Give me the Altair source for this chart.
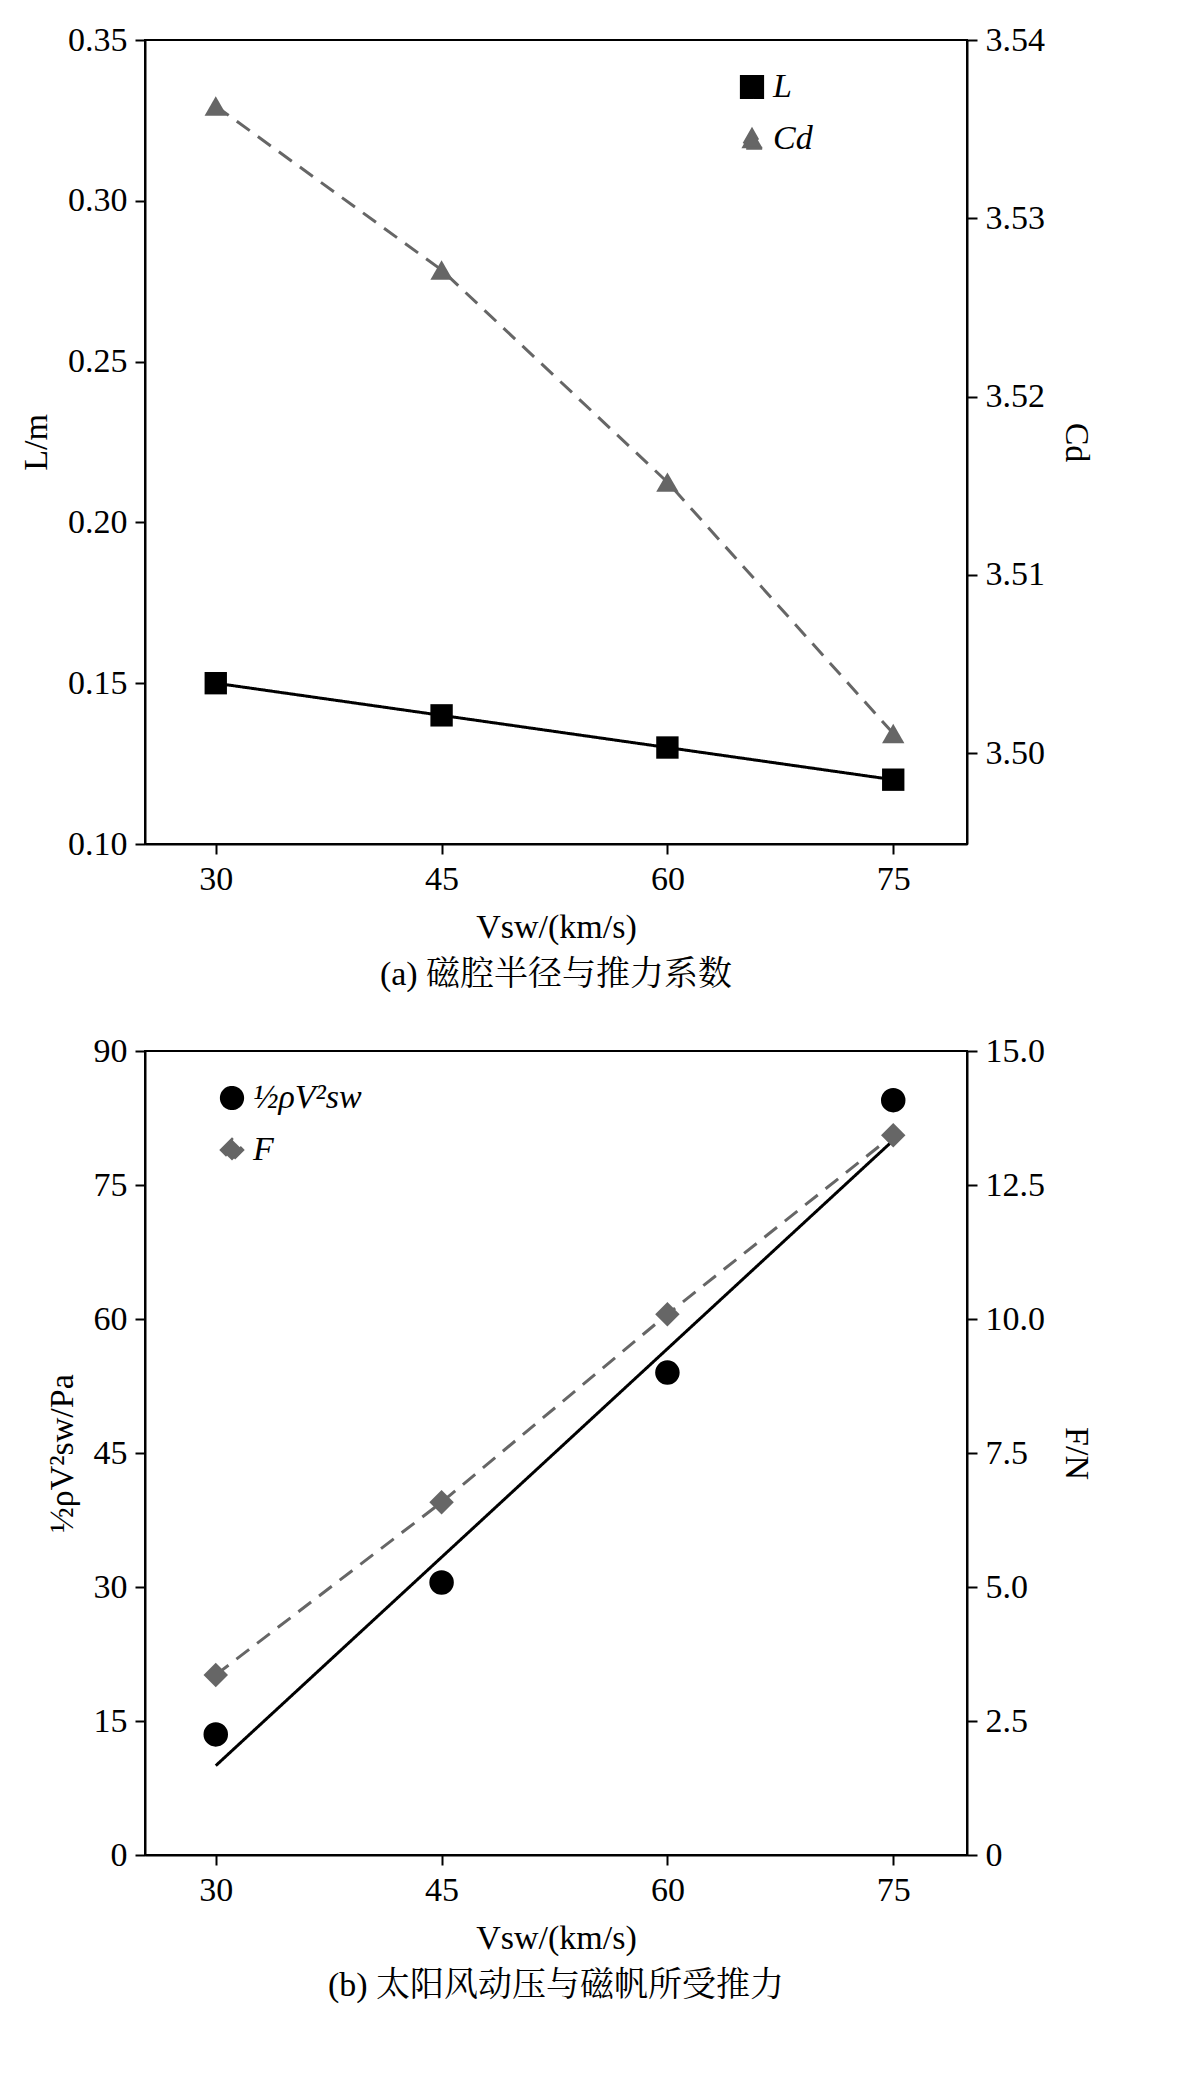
import altair as alt
import pandas as pd

speed = [30, 45, 60, 75]
radius_l = [0.15, 0.14, 0.13, 0.12]
coef_cd = [3.5363, 3.5271, 3.5152, 3.5011]
pressure = [13.5, 30.5, 54.0, 84.5]
pressure_fit_x = [30, 75]
pressure_fit_y = [10.0, 80.0]
thrust_f = [3.36, 6.58, 10.09, 13.43]

SERIF = "Liberation Serif"
CJK = "Liberation Serif, Noto Serif CJK SC, Noto Sans CJK SC"
FS = 34
W, H = 822, 804

xscale = alt.Scale(domain=[25.3, 79.9], nice=False)
xaxis = alt.Axis(values=[30, 45, 60, 75], title="Vsw/(km/s)")


def axis_y(values, title, orient="left", fmt=None, expr=None):
    kw = dict(values=values, title=title, orient=orient)
    if fmt:
        kw["format"] = fmt
    if expr:
        kw["labelExpr"] = expr
    return alt.Axis(**kw)


def series(field, names, colors, dashes, shapes, lx):
    col = alt.Color(field + ":N", scale=alt.Scale(domain=names, range=colors),
                    legend=alt.Legend(title=None, orient="none", legendX=lx, legendY=30,
                                      symbolSize=450, symbolStrokeWidth=3,
                                      labelFontSize=FS, labelFont=SERIF, labelFontStyle="italic",
                                      rowPadding=18))
    dash = alt.StrokeDash(field + ":N", scale=alt.Scale(domain=names, range=dashes))
    shp = alt.Shape(field + ":N", scale=alt.Scale(domain=names, range=shapes))
    return col, dash, shp


x = alt.X("v:Q", scale=xscale, axis=xaxis)

# ---------- panel (a)
da = pd.DataFrame({"v": speed, "L": radius_l, "s": "L"})
dc = pd.DataFrame({"v": speed, "Cd": coef_cd, "s": "Cd"})
col, dash, shp = series("s", ["L", "Cd"], ["black", "#666666"], [[1, 0], [16, 10]],
                        ["square", "triangle-up"], 590)

yl = alt.Y("L:Q", scale=alt.Scale(domain=[0.10, 0.35], nice=False),
           axis=axis_y([0.10, 0.15, 0.20, 0.25, 0.30, 0.35], "L/m", fmt=".2f"))
yc = alt.Y("Cd:Q", scale=alt.Scale(domain=[3.4949, 3.54], nice=False),
           axis=axis_y([3.50, 3.51, 3.52, 3.53, 3.54], "Cd", orient="right", fmt=".2f"))

left_a = (alt.Chart(da).mark_line(strokeWidth=3).encode(x=x, y=yl, color=col, strokeDash=dash)
          + alt.Chart(da).mark_point(filled=True, size=500, opacity=1).encode(x=x, y=yl, color=col, shape=shp))
right_a = (alt.Chart(dc).mark_line(strokeWidth=3).encode(x=x, y=yc, color=col, strokeDash=dash)
           + alt.Chart(dc).mark_point(filled=True, size=500, opacity=1).encode(x=x, y=yc, color=col, shape=shp))
panel_a = alt.layer(left_a, right_a).resolve_scale(y="independent").properties(
    width=W, height=H,
    title=alt.TitleParams("(a) 磁腔半径与推力系数", orient="bottom", font=CJK, fontSize=FS,
                          fontWeight="normal", offset=14))

# ---------- panel (b)
dp = pd.DataFrame({"v": speed, "P": pressure, "t": "½ρV²sw"})
dpf = pd.DataFrame({"v": pressure_fit_x, "P": pressure_fit_y, "t": "½ρV²sw"})
df = pd.DataFrame({"v": speed, "F": thrust_f, "t": "F"})
col2, dash2, shp2 = series("t", ["½ρV²sw", "F"], ["black", "#666666"], [[1, 0], [16, 10]],
                           ["circle", "diamond"], 70)

yp = alt.Y("P:Q", scale=alt.Scale(domain=[0, 90], nice=False),
           axis=axis_y([0, 15, 30, 45, 60, 75, 90], "½ρV²sw/Pa"))
yf = alt.Y("F:Q", scale=alt.Scale(domain=[0, 15], nice=False),
           axis=axis_y([0, 2.5, 5, 7.5, 10, 12.5, 15], "F/N", orient="right",
                       expr="datum.value == 0 ? '0' : format(datum.value, '.1f')"))

left_b = (alt.Chart(dpf).mark_line(strokeWidth=3).encode(x=x, y=yp, color=col2, strokeDash=dash2)
          + alt.Chart(dp).mark_point(filled=True, size=600, opacity=1).encode(x=x, y=yp, color=col2, shape=shp2))
right_b = (alt.Chart(df).mark_line(strokeWidth=3).encode(x=x, y=yf, color=col2, strokeDash=dash2)
           + alt.Chart(df).mark_point(filled=True, size=600, opacity=1).encode(x=x, y=yf, color=col2, shape=shp2))
panel_b = alt.layer(left_b, right_b).resolve_scale(y="independent").properties(
    width=W, height=H,
    title=alt.TitleParams("(b) 太阳风动压与磁帆所受推力", orient="bottom", font=CJK, fontSize=FS,
                          fontWeight="normal", offset=14))

chart = alt.vconcat(panel_a, panel_b, spacing=40).resolve_scale(
    color="independent", shape="independent", strokeDash="independent"
).resolve_legend(color="independent", shape="independent", strokeDash="independent").properties(
    padding={"left": 10, "top": 14, "right": 5, "bottom": 5}
).configure_view(
    stroke="black", strokeWidth=2
).configure_axis(
    labelFont=SERIF, titleFont=SERIF, labelFontSize=FS, titleFontSize=FS,
    labelColor="black", titleColor="black", domainColor="black", tickColor="black",
    domainWidth=2, tickWidth=2, tickSize=10, grid=False, labelPadding=8, titlePadding=14,
    titleFontWeight="normal"
)

chart.save("out.html", embed_options={"renderer": "svg", "actions": False})
